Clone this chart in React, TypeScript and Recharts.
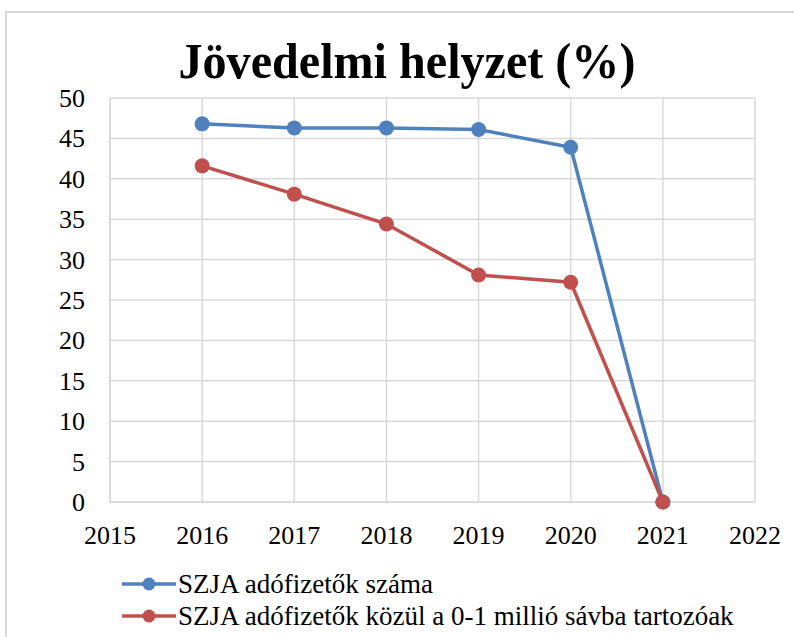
import { LineChart, Line, XAxis, YAxis, CartesianGrid } from "recharts"

const years = [2016, 2017, 2018, 2019, 2020, 2021]
const szjaTotal = [46.8, 46.3, 46.3, 46.1, 43.9, 0]
const szjaLowBand = [41.6, 38.1, 34.4, 28.1, 27.2, 0]
const xTicks = [2015, 2016, 2017, 2018, 2019, 2020, 2021, 2022]
const yTicks = [0, 5, 10, 15, 20, 25, 30, 35, 40, 45, 50]

const seriesNames = ["SZJA adófizetők száma", "SZJA adófizetők közül a 0-1 millió sávba tartozóak"]
const colors = ["#4f81bd", "#c0504d"]

const data = years.map((year, i) => ({ year, total: szjaTotal[i], low: szjaLowBand[i] }))

const font = "Liberation Serif"

function XTick(props: any) {
  const { x, y, payload } = props
  return (
    <text x={x} y={y + 42} textAnchor="middle" fontFamily={font} fontSize={26} fill="#000">
      {payload.value}
    </text>
  )
}

function YTick(props: any) {
  const { x, y, payload } = props
  return (
    <text x={x} y={y + 9} textAnchor="end" fontFamily={font} fontSize={26} fill="#000">
      {payload.value}
    </text>
  )
}

function LegendBox() {
  return (
    <div style={{ position: "absolute", left: 122, top: 568, fontFamily: font, fontSize: 27, color: "#000" }}>
      {seriesNames.map((name, i) => (
        <div key={name} style={{ display: "flex", alignItems: "center", height: 32 }}>
          <svg width={54} height={20} style={{ marginRight: 2 }}>
            <line x1={0} y1={10} x2={54} y2={10} stroke={colors[i]} strokeWidth={3.5} />
            <circle cx={27} cy={10} r={6.5} fill={colors[i]} />
          </svg>
          <span style={{ fontFamily: font, whiteSpace: "nowrap" }}>{name}</span>
        </div>
      ))}
    </div>
  )
}

export default function App() {
  return (
    <div style={{ position: "absolute", left: 0, top: 0, width: 794, height: 637, background: "#fff", overflow: "hidden" }}>
      <div style={{ position: "absolute", left: 5, top: 11, width: 820, height: 660, border: "2px solid #d9d9d9" }} />
      <svg style={{ position: "absolute", left: 0, top: 0 }} width={794} height={100}>
        <text
          x={407}
          y={78}
          textAnchor="middle"
          fontFamily={font}
          fontWeight="bold"
          fontSize={50}
          textLength={457}
          lengthAdjust="spacingAndGlyphs"
        >
          Jövedelmi helyzet (%)
        </text>
      </svg>
      <div style={{ position: "absolute", left: 0, top: 0 }}>
        <LineChart width={794} height={637} data={data} margin={{ top: 98, right: 39, left: 0, bottom: 95 }}>
          <CartesianGrid stroke="#d9d9d9" strokeWidth={1.5} />
          <XAxis
            dataKey="year"
            type="number"
            domain={[2015, 2022]}
            ticks={xTicks}
            interval={0}
            axisLine={{ stroke: "#d9d9d9", strokeWidth: 1.5 }}
            tickLine={false}
            tickSize={0}
            tickMargin={0}
            height={40}
            tick={<XTick />}
          />
          <YAxis
            type="number"
            domain={[0, 50]}
            ticks={yTicks}
            interval={0}
            width={110}
            axisLine={{ stroke: "#d9d9d9", strokeWidth: 1.5 }}
            tickLine={false}
            tickSize={0}
            tickMargin={25}
            tick={<YTick />}
          />
          <Line
            dataKey="total"
            name={seriesNames[0]}
            stroke={colors[0]}
            strokeWidth={3.5}
            dot={{ r: 7.5, fill: colors[0], stroke: colors[0], strokeWidth: 0 }}
            isAnimationActive={false}
          />
          <Line
            dataKey="low"
            name={seriesNames[1]}
            stroke={colors[1]}
            strokeWidth={3.5}
            dot={{ r: 7.5, fill: colors[1], stroke: colors[1], strokeWidth: 0 }}
            isAnimationActive={false}
          />
        </LineChart>
      </div>
      <LegendBox />
    </div>
  )
}
